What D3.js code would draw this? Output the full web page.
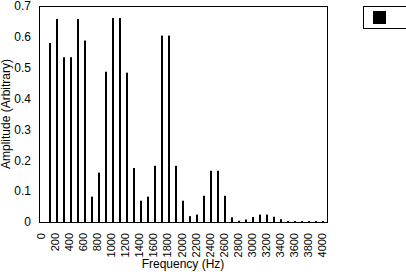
<!DOCTYPE html>
<meta charset="utf-8">
<style>
body { margin: 0; background: #fff; }
text { font-family: "Liberation Sans", Arial, sans-serif; font-size: 12px; fill: #000; }
</style>
<body>
<svg width="406" height="274"></svg>
</body>
<script src="https://d3js.org/d3.v7.min.js"></script>
<script>
// frequencies 0..4000 Hz, step 100
const freqs = d3.range(0, 4001, 100);
const amps = [
  0, 0.58, 0.658, 0.534, 0.534, 0.658, 0.588, 0.082, 0.16, 0.487,
  0.661, 0.661, 0.484, 0.175, 0.069, 0.082, 0.182, 0.604, 0.604, 0.182,
  0.069, 0.019, 0.024, 0.085, 0.166, 0.166, 0.085, 0.015, 0.004, 0.008,
  0.016, 0.024, 0.024, 0.017, 0.009, 0.003, 0.003, 0.003, 0.003, 0.003,
  0.003
];
const yTicks = [0, 0.1, 0.2, 0.3, 0.4, 0.5, 0.6, 0.7];
const xTickLabels = d3.range(0, 4001, 200);

const data = freqs.map((f, i) => ({ f: f, v: amps[i] }));

const svg = d3.select('svg');
const m = { left: 39, right: 327, top: 6, bottom: 222 };
const font = '"Liberation Sans", Arial, sans-serif';

const x = d3.scaleBand().domain(freqs).range([m.left, m.right]);
const y = d3.scaleLinear().domain([0, 0.7]).range([m.bottom, m.top]);

// bars
svg.append('g')
  .selectAll('rect')
  .data(data)
  .enter().append('rect')
  .attr('x', d => Math.round(x(d.f) + x.bandwidth() / 2) - 1)
  .attr('width', 2)
  .attr('y', d => y(d.v))
  .attr('height', d => y(0) - y(d.v))
  .attr('fill', '#000');

// y axis
const yAxis = svg.append('g')
  .attr('transform', `translate(${m.left},0)`)
  .call(d3.axisLeft(y).tickValues(yTicks).tickSize(0).tickPadding(8).tickFormat(d => d === 0 ? '0' : d3.format('.1f')(d)));
yAxis.select('.domain').remove();
yAxis.selectAll('text').style('font-size', '12px').style('font-family', font);

// x axis
const xAxis = svg.append('g')
  .attr('transform', `translate(0,${m.bottom})`)
  .call(d3.axisBottom(x).tickValues(xTickLabels).tickSize(0));
xAxis.select('.domain').remove();
xAxis.selectAll('text')
  .style('font-size', '11px').style('font-family', font)
  .attr('text-anchor', 'end')
  .attr('transform', 'rotate(-90)')
  .attr('x', -11)
  .attr('y', -1)
  .attr('dy', '0.32em');

// plot frame
svg.append('rect')
  .attr('x', m.left + 0.5).attr('y', m.top + 0.5)
  .attr('width', m.right - m.left).attr('height', m.bottom - m.top)
  .attr('fill', 'none').attr('stroke', '#000').attr('stroke-width', 1);

// axis titles
svg.append('text')
  .attr('x', (m.left + m.right) / 2).attr('y', 268)
  .attr('text-anchor', 'middle')
  .text('Frequency (Hz)');
svg.append('text')
  .attr('transform', `translate(10,${(m.top + m.bottom) / 2}) rotate(-90)`)
  .attr('text-anchor', 'middle')
  .text('Amplitude (Arbitrary)');

// legend
svg.append('rect')
  .attr('x', 363.5).attr('y', 6.5).attr('width', 60).attr('height', 22)
  .attr('fill', '#fff').attr('stroke', '#000');
svg.append('rect')
  .attr('x', 373).attr('y', 11).attr('width', 13).attr('height', 13)
  .attr('fill', '#000');
</script>
